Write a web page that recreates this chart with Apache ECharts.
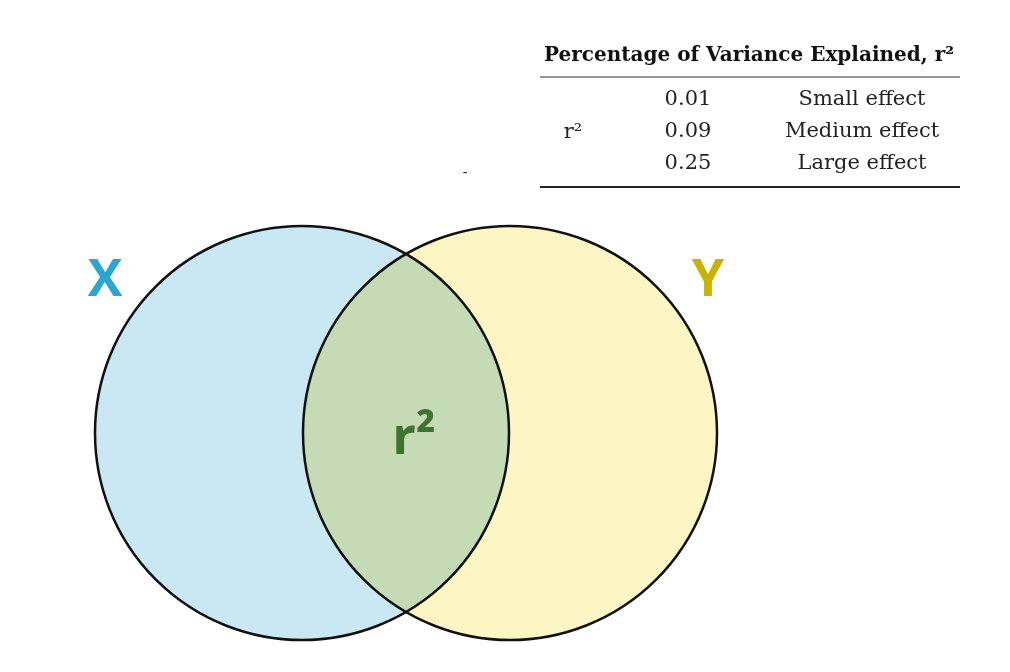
<!DOCTYPE html>
<html><head><meta charset="utf-8">
<script src="https://cdn.jsdelivr.net/npm/echarts@6/dist/echarts.min.js"></script>
<style>html,body{margin:0;background:#fff}#c{width:1010px;height:672px}</style>
</head><body><div id="c"></div>
<script>
var setNames = ['X', 'Y'];
var setCenterX = [302, 510];
var setCenterY = [433, 433];
var setRadius = [207, 207];
var overlapLabel = 'r²';
var tableTitle = 'Percentage of Variance Explained, r²';
var tableValues = ['0.01', '0.09', '0.25'];
var tableEffects = ['Small effect', 'Medium effect', 'Large effect'];

var chart = echarts.init(document.getElementById('c'));
function renderItem(params, api) {
  var p0 = api.coord([setCenterX[0], setCenterY[0]]);
  var p1 = api.coord([setCenterX[1], setCenterY[1]]);
  var r0 = api.size([setRadius[0], 0])[0];
  var r1 = api.size([setRadius[1], 0])[0];
  var d = p1[0] - p0[0];
  var a = (d * d + r0 * r0 - r1 * r1) / (2 * d);
  var h = Math.sqrt(r0 * r0 - a * a);
  var ix = p0[0] + a, ty = p0[1] - h, by = p0[1] + h;
  var lens = 'M' + ix + ' ' + ty + ' A' + r0 + ' ' + r0 + ' 0 0 1 ' + ix + ' ' + by +
             ' A' + r1 + ' ' + r1 + ' 0 0 1 ' + ix + ' ' + ty + ' Z';
  return { type: 'group', children: [
    { type: 'circle', shape: { cx: p1[0], cy: p1[1], r: r1 }, style: { fill: '#fdf6c4' } },
    { type: 'circle', shape: { cx: p0[0], cy: p0[1], r: r0 }, style: { fill: '#c9e8f3' } },
    { type: 'path', shape: { pathData: lens }, style: { fill: '#c4dbb6' } },
    { type: 'circle', shape: { cx: p0[0], cy: p0[1], r: r0 }, style: { fill: 'none', stroke: '#111', lineWidth: 2.5 } },
    { type: 'circle', shape: { cx: p1[0], cy: p1[1], r: r1 }, style: { fill: 'none', stroke: '#111', lineWidth: 2.5 } },
    { type: 'text', style: { x: p0[0] - 197, y: p0[1] - 152, text: setNames[0], fill: '#2aa6d2', font: 'bold 52px "Open Sans"', align: 'center', verticalAlign: 'middle' } },
    { type: 'text', style: { x: p1[0] + 198, y: p1[1] - 152, text: setNames[1], fill: '#c9b300', font: 'bold 52px "Open Sans"', align: 'center', verticalAlign: 'middle' } },
    { type: 'text', style: { x: ix + 8, y: p0[1] + 6, text: overlapLabel, fill: '#3f7430', font: 'bold 52px "Open Sans"', align: 'center', verticalAlign: 'middle' } }
  ]};
}
var serif = '"DejaVu Serif", "Liberation Serif", serif';
var graphics = [
  { type: 'text', x: 749, y: 56, style: { text: tableTitle, font: 'bold 20px ' + serif, fill: '#111', align: 'center', verticalAlign: 'middle' } },
  { type: 'line', shape: { x1: 540, y1: 77, x2: 960, y2: 77 }, style: { stroke: '#333', lineWidth: 1 } },
  { type: 'line', shape: { x1: 540, y1: 187, x2: 960, y2: 187 }, style: { stroke: '#222', lineWidth: 2 } },
  { type: 'text', x: 573, y: 133, style: { text: 'r²', font: '21px ' + serif, fill: '#222', align: 'center', verticalAlign: 'middle' } },
  { type: 'text', x: 465, y: 173, style: { text: '-', font: '14px ' + serif, fill: '#222', align: 'center', verticalAlign: 'middle' } }
];
for (var i = 0; i < tableValues.length; i++) {
  graphics.push({ type: 'text', x: 688, y: 100 + 32 * i, style: { text: tableValues[i], font: '21px ' + serif, fill: '#222', align: 'center', verticalAlign: 'middle' } });
  graphics.push({ type: 'text', x: 862, y: 100 + 32 * i, style: { text: tableEffects[i], font: '21px ' + serif, fill: '#222', align: 'center', verticalAlign: 'middle' } });
}
chart.setOption({
  animation: false,
  grid: { left: 0, right: 0, top: 0, bottom: 0 },
  xAxis: { type: 'value', min: 0, max: 1010, show: false },
  yAxis: { type: 'value', min: 0, max: 672, inverse: true, show: false },
  graphic: graphics,
  series: [{ type: 'custom', renderItem: renderItem, data: [[0, 0]], clip: false }]
});
</script></body></html>
